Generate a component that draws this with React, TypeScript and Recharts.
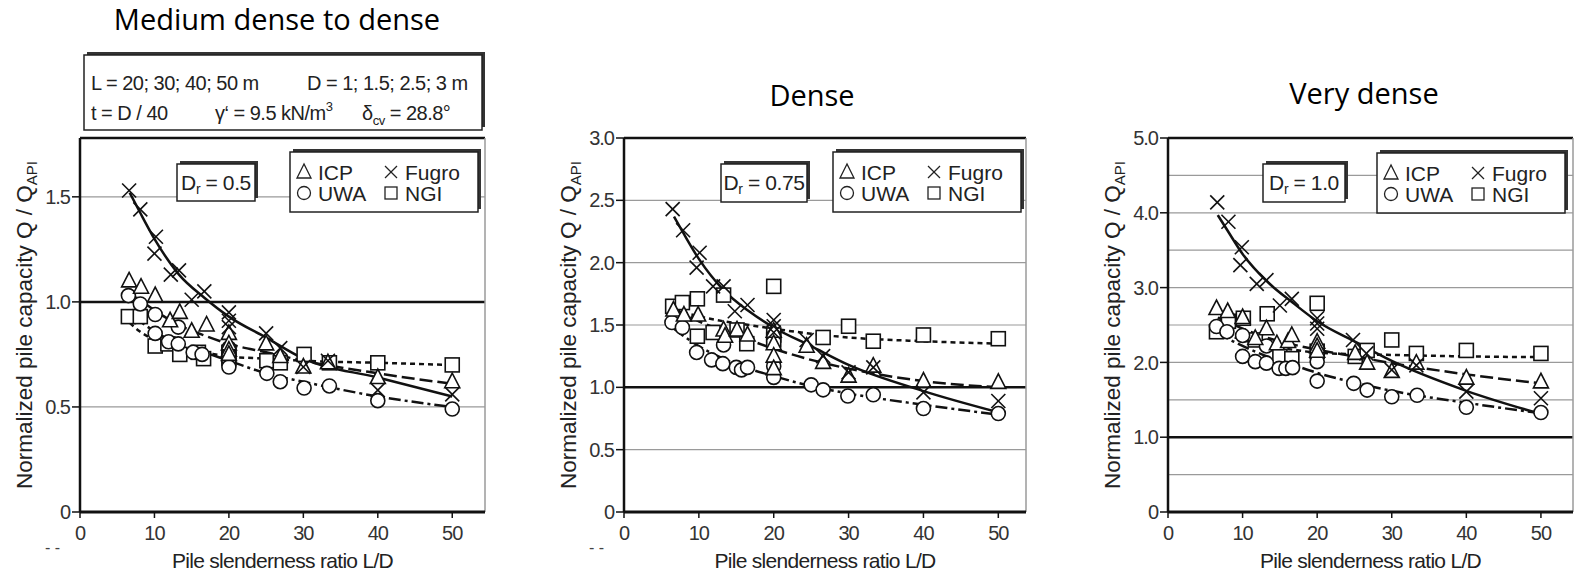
import React from 'react';
import { ComposedChart, XAxis, YAxis, Line, Scatter, ReferenceLine, CartesianGrid, Label } from 'recharts';

const FONT = '"Liberation Sans", Arial, sans-serif';
const TITLE_FONT = '"Open Sans", "Noto Sans", sans-serif';

const xTicks = [0, 10, 20, 30, 40, 50];
const trendX = [6.67, 8, 10, 13.3, 16.7, 20, 25, 30, 40, 50];

// ---- Dr = 0.5 (medium dense to dense)
const icp05 = [[6.6, 1.10], [8.2, 1.07], [10.1, 1.03], [12.1, 0.91], [13.4, 0.95], [15, 0.86], [17, 0.89], [20, 0.85], [20, 0.80], [20, 0.77], [20, 0.75], [25, 0.80], [26.9, 0.74], [30, 0.69], [33.3, 0.71], [40, 0.64], [50, 0.62]];
const fugro05 = [[6.6, 1.53], [8.1, 1.44], [10.2, 1.31], [10, 1.23], [12.2, 1.13], [13.3, 1.15], [15, 1.01], [16.7, 1.05], [20, 0.95], [20, 0.91], [20, 0.88], [25, 0.85], [26.9, 0.78], [30, 0.69], [33.3, 0.72], [40, 0.58], [50, 0.56]];
const uwa05 = [[6.5, 1.03], [8.1, 0.99], [10.1, 0.94], [10.1, 0.85], [11.9, 0.81], [13.2, 0.80], [13.2, 0.88], [15.2, 0.76], [16.4, 0.75], [20, 0.78], [20, 0.75], [20, 0.72], [20, 0.69], [25.1, 0.66], [26.9, 0.62], [30.1, 0.59], [33.5, 0.60], [40, 0.53], [50, 0.49]];
const ngi05 = [[6.5, 0.93], [8.1, 0.93], [10.1, 0.79], [11.8, 0.80], [13.4, 0.75], [15.9, 0.76], [16.6, 0.73], [20, 0.76], [20, 0.73], [25.1, 0.72], [26.9, 0.71], [30.1, 0.75], [33.5, 0.71], [40, 0.71], [50, 0.70]];
const icp05Trend = [1.04, 1.01, 0.96, 0.89, 0.84, 0.80, 0.76, 0.72, 0.66, 0.61];
const fugro05Trend = [1.52, 1.43, 1.30, 1.13, 1.02, 0.93, 0.83, 0.73, 0.64, 0.55];
const uwa05Trend = [0.95, 0.91, 0.86, 0.80, 0.76, 0.72, 0.66, 0.62, 0.55, 0.50];
const ngi05Trend = [0.90, 0.86, 0.82, 0.78, 0.76, 0.74, 0.73, 0.72, 0.71, 0.70];

// ---- Dr = 0.75 (dense)
const icp075 = [[6.6, 1.62], [8, 1.58], [9.9, 1.58], [13.3, 1.46], [13.5, 1.41], [15.1, 1.46], [16.5, 1.42], [20, 1.45], [20, 1.35], [20, 1.25], [20, 1.15], [24.4, 1.33], [26.6, 1.20], [30, 1.09], [33.3, 1.17], [40, 1.05], [50, 1.04]];
const fugro075 = [[6.5, 2.43], [7.9, 2.26], [10.1, 2.08], [9.7, 1.96], [11.9, 1.81], [13.3, 1.81], [14.8, 1.61], [16.5, 1.66], [20, 1.54], [20, 1.49], [20, 1.44], [24.4, 1.38], [26.6, 1.25], [30, 1.12], [33.3, 1.16], [40, 0.96], [50, 0.89]];
const uwa075 = [[6.4, 1.52], [7.8, 1.48], [9.7, 1.28], [11.7, 1.22], [13.2, 1.19], [13.3, 1.34], [15, 1.16], [15.7, 1.14], [16.5, 1.16], [20, 1.17], [20, 1.08], [25, 1.02], [26.6, 0.98], [29.9, 0.93], [33.3, 0.94], [40, 0.83], [50, 0.79]];
const ngi075 = [[6.5, 1.65], [7.8, 1.68], [9.8, 1.71], [9.8, 1.41], [11.9, 1.44], [13.3, 1.74], [15.1, 1.46], [16.4, 1.35], [20, 1.81], [20, 1.42], [20, 1.38], [26.6, 1.40], [30, 1.49], [33.3, 1.37], [40, 1.42], [50, 1.39]];
const icp075Trend = [1.62, 1.59, 1.53, 1.45, 1.38, 1.31, 1.22, 1.15, 1.05, 1.00];
const fugro075Trend = [2.37, 2.23, 2.03, 1.78, 1.61, 1.48, 1.33, 1.18, 0.97, 0.80];
const uwa075Trend = [1.47, 1.41, 1.33, 1.23, 1.15, 1.09, 1.01, 0.95, 0.86, 0.78];
const ngi075Trend = [1.62, 1.60, 1.57, 1.53, 1.50, 1.47, 1.43, 1.40, 1.37, 1.35];

// ---- Dr = 1.0 (very dense)
const icp10 = [[6.5, 2.72], [8, 2.68], [10, 2.60], [11.7, 2.32], [13.2, 2.45], [14.6, 2.25], [16.1, 2.28], [16.6, 2.36], [20, 2.27], [20, 2.21], [20, 2.15], [25.1, 2.12], [26.7, 1.99], [30, 1.88], [33.3, 1.99], [40, 1.79], [50, 1.74]];
const fugro10 = [[6.6, 4.14], [8.1, 3.88], [9.9, 3.54], [9.7, 3.30], [11.9, 3.05], [13.2, 3.10], [15, 2.76], [16.6, 2.85], [20, 2.59], [20, 2.52], [20, 2.45], [24.8, 2.30], [26.6, 2.12], [30, 1.90], [33.3, 1.96], [40, 1.61], [50, 1.52]];
const uwa10 = [[6.5, 2.48], [7.9, 2.41], [10, 2.36], [10, 2.08], [11.7, 2.01], [13.2, 1.99], [13.2, 2.22], [14.9, 1.92], [15.8, 1.92], [16.7, 1.93], [20, 2.01], [20, 1.75], [24.9, 1.72], [26.7, 1.63], [30, 1.54], [33.4, 1.56], [40, 1.40], [50, 1.33]];
const ngi10 = [[6.5, 2.41], [8.1, 2.55], [10.1, 2.59], [11.7, 2.30], [13.3, 2.65], [15, 2.08], [16.6, 2.05], [20, 2.79], [20, 2.15], [25.1, 2.08], [26.7, 2.16], [30, 2.30], [33.3, 2.12], [40, 2.16], [50, 2.12]];
const icp10Trend = [2.60, 2.54, 2.45, 2.33, 2.24, 2.17, 2.08, 1.99, 1.84, 1.72];
const fugro10Trend = [3.97, 3.76, 3.45, 3.08, 2.80, 2.55, 2.28, 2.02, 1.62, 1.31];
const uwa10Trend = [2.40, 2.32, 2.22, 2.08, 1.97, 1.86, 1.73, 1.62, 1.46, 1.32];
const ngi10Trend = [2.42, 2.37, 2.30, 2.22, 2.17, 2.13, 2.11, 2.10, 2.08, 2.07];

// y ticks / grid
const yTicks05 = [0, 0.5, 1, 1.5];
const yGrid05 = [0.5, 1.5];
const yTicks075 = [0, 0.5, 1, 1.5, 2, 2.5, 3];
const yGrid075 = [0.5, 1.5, 2, 2.5];
const yTicks10 = [0, 1, 2, 3, 4, 5];
const yGrid10 = [0.5, 1.5, 2, 2.5, 3, 3.5, 4, 4.5];

const toPts = (a: number[][]) => a.map(([x, y]) => ({ x, y }));
const trendPts = (ys: number[]) => trendX.map((x, i) => ({ x, y: ys[i] }));

const INK = '#111';
const MW = 1.6;

const TriShape = (p: any) => (
  <polygon points={`${p.cx},${p.cy - 8.5} ${p.cx - 7.5},${p.cy + 6} ${p.cx + 7.5},${p.cy + 6}`} fill="#fff" stroke={INK} strokeWidth={MW} />
);
const CircleShape = (p: any) => <circle cx={p.cx} cy={p.cy} r={7} fill="#fff" stroke={INK} strokeWidth={MW} />;
const SquareShape = (p: any) => <rect x={p.cx - 7} y={p.cy - 7} width={14} height={14} fill="#fff" stroke={INK} strokeWidth={MW} />;
const CrossShape = (p: any) => (
  <g stroke={INK} strokeWidth={MW}>
    <line x1={p.cx - 7} y1={p.cy - 7} x2={p.cx + 7} y2={p.cy + 7} />
    <line x1={p.cx - 7} y1={p.cy + 7} x2={p.cx + 7} y2={p.cy - 7} />
  </g>
);

const fmtY = (v: number) => (v === 0 ? '0' : v.toFixed(1));

function YLabel({ viewBox }: any) {
  const cx = viewBox.x - 8;
  const cy = viewBox.y + viewBox.height / 2;
  return (
    <text x={cx} y={cy} transform={`rotate(-90, ${cx}, ${cy})`} textAnchor="middle" fontFamily={FONT} fontSize={22.5} fill="#222">
      Normalized pile capacity Q / Q<tspan fontSize={15} dy={5}>API</tspan>
    </text>
  );
}

function XLabel({ viewBox }: any) {
  return (
    <text x={viewBox.x + viewBox.width / 2} y={viewBox.y + 56} textAnchor="middle" fontFamily={FONT} fontSize={21} letterSpacing={-0.7} fill="#222">
      Pile slenderness ratio L/D
    </text>
  );
}

function Panel({ left, plotW, rightM, xMax, yMax, yTicks, yGrid, icp, fugro, uwa, ngi, icpT, fugroT, uwaT, ngiT }: any) {
  const tick = { fill: '#333', fontSize: 20, fontFamily: FONT, letterSpacing: -1 };
  return (
    <div style={{ position: 'absolute', left, top: 0 }}>
      <ComposedChart width={80 + plotW + rightM} height={577} margin={{ top: 138, right: rightM, bottom: 35, left: 40 }}>
        <CartesianGrid horizontal vertical={false} horizontalValues={yGrid} stroke="#9a9a9a" strokeWidth={1.2} />
        <XAxis type="number" dataKey="x" domain={[0, xMax]} ticks={xTicks} allowDataOverflow height={30}
          axisLine={{ stroke: INK, strokeWidth: 3 }} tickLine={{ stroke: INK, strokeWidth: 1.5 }} tickSize={6} tickMargin={8} tick={tick}>
          <Label content={<XLabel />} />
        </XAxis>
        <YAxis type="number" domain={[0, yMax]} ticks={yTicks} allowDataOverflow width={40} tickFormatter={fmtY}
          axisLine={{ stroke: INK, strokeWidth: 2.5 }} tickLine={{ stroke: INK, strokeWidth: 1.5 }} tickSize={8} tickMargin={2} tick={tick}>
          <Label content={<YLabel />} />
        </YAxis>
        <ReferenceLine y={1} stroke={INK} strokeWidth={2.5} />
        <ReferenceLine y={yMax} stroke={INK} strokeWidth={2.5} />
        <ReferenceLine x={xMax} stroke="#9a9a9a" strokeWidth={1.5} />
        <Line data={trendPts(ngiT)} dataKey="y" type="monotone" stroke={INK} strokeWidth={2.5} strokeDasharray="5 4" dot={false} isAnimationActive={false} />
        <Line data={trendPts(icpT)} dataKey="y" type="monotone" stroke={INK} strokeWidth={2.5} strokeDasharray="13 5" dot={false} isAnimationActive={false} />
        <Line data={trendPts(uwaT)} dataKey="y" type="monotone" stroke={INK} strokeWidth={2.5} strokeDasharray="12 4 3 4" dot={false} isAnimationActive={false} />
        <Scatter data={toPts(ngi)} dataKey="y" shape={SquareShape} isAnimationActive={false} />
        <Scatter data={toPts(uwa)} dataKey="y" shape={CircleShape} isAnimationActive={false} />
        <Scatter data={toPts(icp)} dataKey="y" shape={TriShape} isAnimationActive={false} />
        <Scatter data={toPts(fugro)} dataKey="y" shape={CrossShape} isAnimationActive={false} />
        <Line data={trendPts(fugroT)} dataKey="y" type="monotone" stroke={INK} strokeWidth={2.5} dot={false} isAnimationActive={false} />
      </ComposedChart>
    </div>
  );
}

function ShadowBox({ x, y, w, h }: any) {
  return (
    <g>
      <rect x={x + 3} y={y - 3} width={w} height={h} fill="#333" />
      <rect x={x} y={y} width={w} height={h} fill="#fff" stroke="#222" strokeWidth={1.5} />
    </g>
  );
}

function DrBox({ x, y, w, h, value }: any) {
  return (
    <g>
      <ShadowBox x={x} y={y} w={w} h={h} />
      <text x={x + w / 2} y={y + h / 2 + 7} textAnchor="middle" fontFamily={FONT} fontSize={21} letterSpacing={-0.4} fill="#222">
        D<tspan fontSize={14} dy={4}>r</tspan><tspan dy={-4}>{` = ${value}`}</tspan>
      </text>
    </g>
  );
}

function LegendBox({ x, y }: any) {
  const w = 188;
  const h = 60;
  const r1 = y + 20;
  const r2 = y + 41;
  const sw = 1.3;
  return (
    <g fontFamily={FONT} fontSize={21} fill="#222">
      <ShadowBox x={x} y={y} w={w} h={h} />
      <polygon points={`${x + 14},${r1 - 8} ${x + 7},${r1 + 6} ${x + 21},${r1 + 6}`} fill="none" stroke="#222" strokeWidth={sw} />
      <text x={x + 28} y={r1 + 7.5}>ICP</text>
      <g stroke="#222" strokeWidth={sw}>
        <line x1={x + 95} y1={r1 - 6} x2={x + 107} y2={r1 + 6} />
        <line x1={x + 95} y1={r1 + 6} x2={x + 107} y2={r1 - 6} />
      </g>
      <text x={x + 115} y={r1 + 7.5}>Fugro</text>
      <circle cx={x + 14} cy={r2} r={6.5} fill="none" stroke="#222" strokeWidth={sw} />
      <text x={x + 28} y={r2 + 7.5}>UWA</text>
      <rect x={x + 95} y={r2 - 6} width={12} height={12} fill="none" stroke="#222" strokeWidth={sw} />
      <text x={x + 115} y={r2 + 7.5}>NGI</text>
    </g>
  );
}

function Overlay() {
  return (
    <svg width={1576} height={577} style={{ position: 'absolute', left: 0, top: 0, pointerEvents: 'none' }}>
      <text x={277} y={30} textAnchor="middle" fontFamily={TITLE_FONT} fontSize={29} fill="#000">Medium dense to dense</text>
      <text x={812} y={106} textAnchor="middle" fontFamily={TITLE_FONT} fontSize={29} fill="#000">Dense</text>
      <text x={1364} y={104} textAnchor="middle" fontFamily={TITLE_FONT} fontSize={29} fill="#000">Very dense</text>

      <ShadowBox x={84} y={55} w={398} h={75} />
      <g fontFamily={FONT} fontSize={20} letterSpacing={-0.5} fill="#222">
        <text x={91} y={90}>L = 20; 30; 40; 50 m</text>
        <text x={307} y={90}>D = 1; 1.5; 2.5; 3 m</text>
        <text x={91} y={120}>t = D / 40</text>
        <text x={215} y={120}>γ‘ = 9.5 kN/m<tspan fontSize={13} dy={-9}>3</tspan></text>
        <text x={362} y={120}>δ<tspan fontSize={13} dy={5}>cv</tspan><tspan dy={-5}> = 28.8°</tspan></text>
      </g>

      <DrBox x={177} y={164} w={78} h={37} value="0.5" />
      <LegendBox x={290} y={152} />
      <DrBox x={721} y={164} w={86} h={38} value="0.75" />
      <LegendBox x={833} y={152} />
      <DrBox x={1263} y={164} w={82} h={38} value="1.0" />
      <LegendBox x={1377} y={153} />

      <text x={45} y={553} fontFamily={FONT} fontSize={16} fill="#444">- -</text>
      <text x={589} y={553} fontFamily={FONT} fontSize={16} fill="#444">- -</text>
    </svg>
  );
}

export default function App() {
  return (
    <div style={{ position: 'absolute', left: 0, top: 0, width: 1576, height: 577, background: '#fff' }}>
      <Panel left={0} plotW={405} rightM={14} xMax={54.4} yMax={1.78} yTicks={yTicks05} yGrid={yGrid05}
        icp={icp05} fugro={fugro05} uwa={uwa05} ngi={ngi05}
        icpT={icp05Trend} fugroT={fugro05Trend} uwaT={uwa05Trend} ngiT={ngi05Trend} />
      <Panel left={544} plotW={402} rightM={14} xMax={53.7} yMax={3} yTicks={yTicks075} yGrid={yGrid075}
        icp={icp075} fugro={fugro075} uwa={uwa075} ngi={ngi075}
        icpT={icp075Trend} fugroT={fugro075Trend} uwaT={uwa075Trend} ngiT={ngi075Trend} />
      <Panel left={1088} plotW={405} rightM={3} xMax={54.3} yMax={5} yTicks={yTicks10} yGrid={yGrid10}
        icp={icp10} fugro={fugro10} uwa={uwa10} ngi={ngi10}
        icpT={icp10Trend} fugroT={fugro10Trend} uwaT={uwa10Trend} ngiT={ngi10Trend} />
      <Overlay />
    </div>
  );
}
